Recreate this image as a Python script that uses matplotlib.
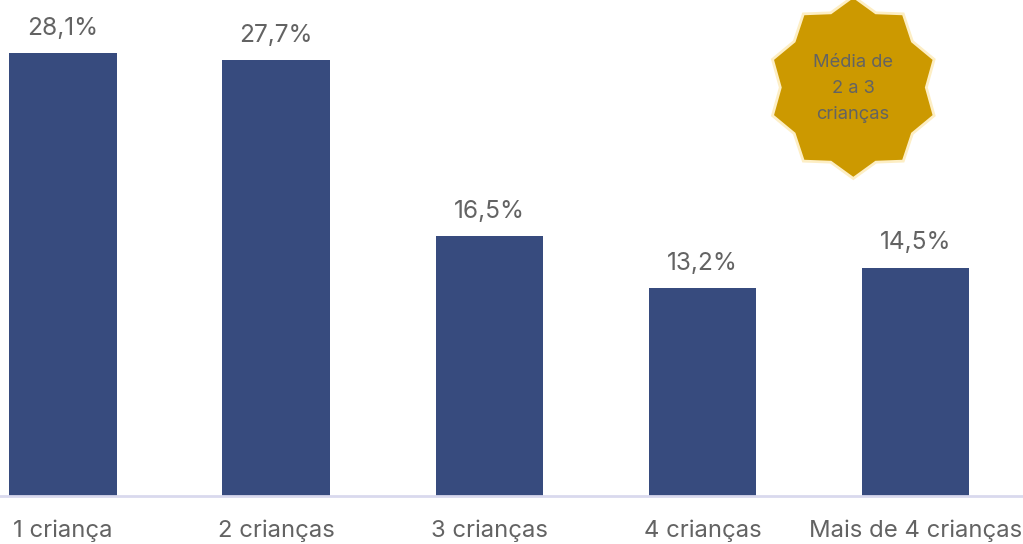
import numpy as np
import matplotlib
matplotlib.use("Agg")
import matplotlib.pyplot as plt

categories = ["1 criança", "2 crianças", "3 crianças", "4 crianças", "Mais de 4 crianças"]
values = [28.1, 27.7, 16.5, 13.2, 14.5]
value_labels = ["28,1%", "27,7%", "16,5%", "13,2%", "14,5%"]

plt.rcParams['font.family'] = ['Inter', 'DejaVu Sans']

W, H = 1023, 544
fig = plt.figure(figsize=(W / 100, H / 100), dpi=100)

# plot area runs to the top of the image, baseline at y=496px
ax = fig.add_axes([0, (H - 496) / H, 1, 496 / H])
x = np.arange(len(categories))
ax.bar(x, values, width=0.503, color="#374b7e")
ax.set_xlim(-0.295, 4.503)
ax.set_ylim(0, 496 / 15.75)

for s in ["top", "right", "left"]:
    ax.spines[s].set_visible(False)
ax.spines["bottom"].set_color("#d9d9ee")
ax.spines["bottom"].set_linewidth(2)
ax.set_yticks([])
ax.set_xticks(x)
ax.set_xticklabels(categories, fontsize=17.2, color="#636363")
ax.tick_params(axis="x", length=0, pad=17)

for i in range(len(values)):
    ax.annotate(value_labels[i], (x[i], values[i]), xytext=(0, 9.5), textcoords="offset points",
                ha="center", va="bottom", fontsize=17.6, color="#636363")

# star badge, in pixel coords
over = fig.add_axes([0, 0, 1, 1])
over.set_xlim(0, W)
over.set_ylim(H, 0)
over.axis("off")
ang = np.pi / 2 + np.arange(20) * np.pi / 10
rx = np.where(np.arange(20) % 2 == 0, 85, 73)
ry = np.where(np.arange(20) % 2 == 0, 91, 78.5)
over.fill(853.3 + rx * np.cos(ang), 87.5 - ry * np.sin(ang), facecolor="#cc9900",
          edgecolor="#fdeec4", linewidth=2, joinstyle="miter", clip_on=False)
over.text(853, 88.5, "Média de\n2 a 3\ncrianças", ha="center", va="center", fontsize=13.2,
          color="#636363", linespacing=1.68)

fig.savefig("out.png", dpi=100)
